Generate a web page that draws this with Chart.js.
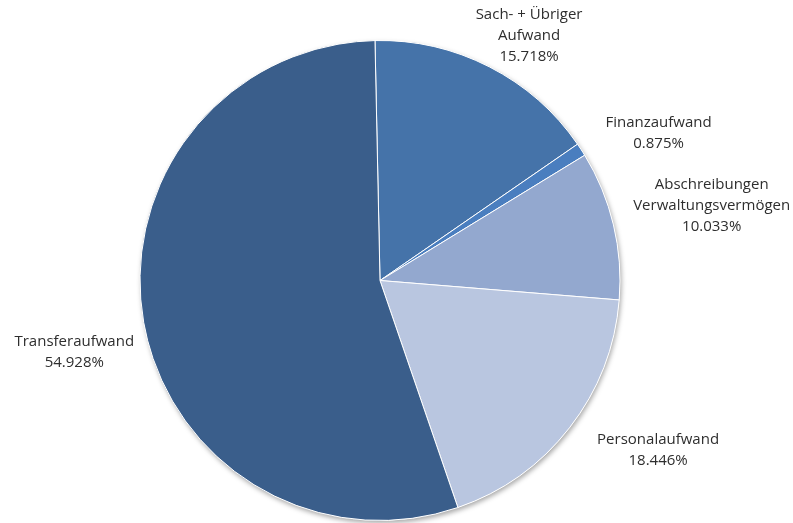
<!DOCTYPE html>
<html>
<head>
<meta charset="utf-8">
<script src="https://cdn.jsdelivr.net/npm/chart.js@4.4.1/dist/chart.umd.min.js"></script>
<style>
  html, body { margin: 0; padding: 0; background: #ffffff; }
  #wrap { width: 793px; height: 523px; position: relative; }
</style>
</head>
<body>
<div id="wrap"><canvas id="c" width="793" height="523"></canvas></div>
<script>
const categories = ["Sach- + Übriger Aufwand", "Finanzaufwand", "Abschreibungen Verwaltungsvermögen", "Personalaufwand", "Transferaufwand"];
const labelLines = [["Sach- + Übriger", "Aufwand"], ["Finanzaufwand"], ["Abschreibungen", "Verwaltungsvermögen"], ["Personalaufwand"], ["Transferaufwand"]];
const shares = [15.718, 0.875, 10.033, 18.446, 54.928];
const sliceColors = ["#4573a9", "#4a7ebf", "#93a8cf", "#b9c6e0", "#3a5e8b"];

// label placement relative to slice mid-angle: [extra distance beyond radius, angle shift in degrees]
const labelPlacement = [[47, 4.2], [75, 5.2], [100, 0.7], [86, -6.4], [74, -3.1]];

const shadowPlugin = {
  id: 'pieShadow',
  beforeDatasetsDraw(chart) {
    const arc = chart.getDatasetMeta(0).data[0];
    if (!arc) return;
    const ctx = chart.ctx;
    ctx.save();
    ctx.shadowColor = 'rgba(0,0,0,0.35)';
    ctx.shadowBlur = 5;
    ctx.shadowOffsetX = 1.5;
    ctx.shadowOffsetY = 2.5;
    ctx.fillStyle = '#ffffff';
    ctx.beginPath();
    ctx.arc(arc.x, arc.y, arc.outerRadius, 0, Math.PI * 2);
    ctx.fill();
    ctx.restore();
  }
};

const labelPlugin = {
  id: 'outLabels',
  afterDatasetsDraw(chart) {
    const ctx = chart.ctx;
    const meta = chart.getDatasetMeta(0);
    ctx.save();
    ctx.font = '15px "Open Sans", sans-serif';
    ctx.fillStyle = '#2e2e2e';
    ctx.textAlign = 'center';
    ctx.textBaseline = 'middle';
    const lineH = 21;
    meta.data.forEach((arc, i) => {
      const mid = (arc.startAngle + arc.endAngle) / 2 + labelPlacement[i][1] * Math.PI / 180;
      const d = arc.outerRadius + labelPlacement[i][0];
      const cx = arc.x + Math.cos(mid) * d;
      const cy = arc.y + Math.sin(mid) * d;
      const lines = labelLines[i].concat([shares[i].toFixed(3) + '%']);
      const top = cy - (lines.length - 1) * lineH / 2;
      lines.forEach((t, k) => ctx.fillText(t, cx, top + k * lineH));
    });
    ctx.restore();
  }
};

new Chart(document.getElementById('c'), {
  type: 'pie',
  data: {
    labels: categories,
    datasets: [{
      data: shares,
      backgroundColor: sliceColors,
      borderColor: '#ffffff',
      borderWidth: 1,
      hoverOffset: 0,
      offset: 0
    }]
  },
  options: {
    responsive: false,
    animation: false,
    rotation: -1.2,
    layout: { padding: { top: 40, bottom: 2, left: 0, right: 33 } },
    plugins: {
      legend: { display: false },
      tooltip: { enabled: false }
    },
    events: []
  },
  plugins: [shadowPlugin, labelPlugin]
});
</script>
</body>
</html>
